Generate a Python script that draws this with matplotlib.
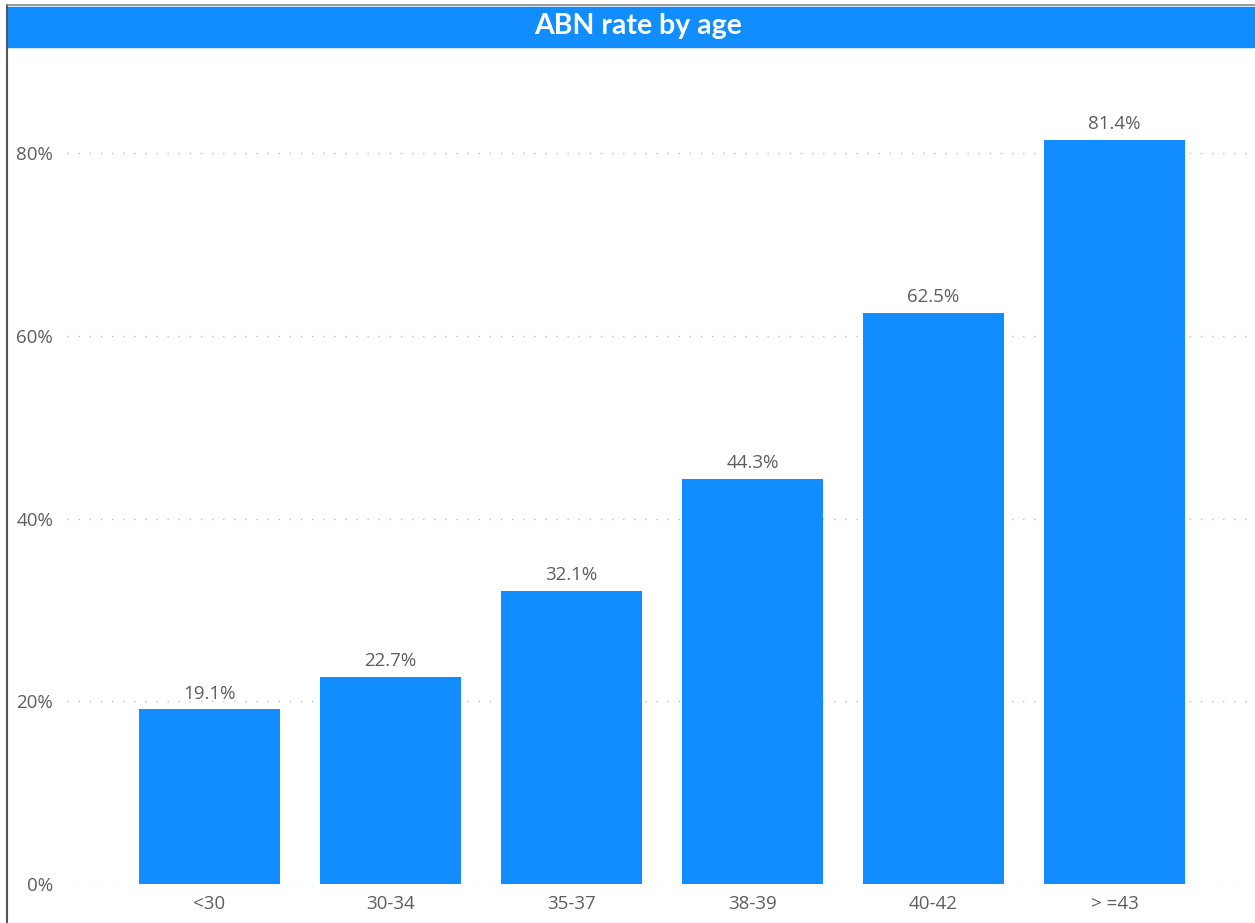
import matplotlib
matplotlib.use("Agg")
import matplotlib.pyplot as plt
from matplotlib.lines import Line2D
from matplotlib.patches import Rectangle

categories = ["<30", "30-34", "35-37", "38-39", "40-42", "> =43"]
values = [19.1, 22.7, 32.1, 44.3, 62.5, 81.4]
yticks = [0, 20, 40, 60, 80]
ytick_labels = ["0%", "20%", "40%", "60%", "80%"]
title = "ABN rate by age"

BLUE = "#118DFF"
GRAY = "#605E5C"
plt.rcParams['font.family'] = ['Open Sans', 'DejaVu Sans']

W, H = 1255, 923
fig = plt.figure(figsize=(W / 100, H / 100), dpi=100)

# title bar
fig.patches.append(Rectangle((7 / W, 1 - 47 / H), 1 - 7 / W, 40 / H,
                             transform=fig.transFigure, color=BLUE, zorder=1))
fig.text(638 / W, 1 - 26 / H, title, color="white", fontsize=20.5,
         fontweight="bold", ha="center", va="center", family=['Lato', 'DejaVu Sans'])
# frame lines
fig.lines.append(Line2D([7 / W, 7 / W], [0, 1 - 5 / H], transform=fig.transFigure,
                        color="#555555", lw=1.5))
fig.lines.append(Line2D([7 / W, 1], [1 - 5 / H, 1 - 5 / H], transform=fig.transFigure,
                        color="#888888", lw=1.2))

left, right = 67 / W, 1250 / W
bottom, top = (H - 884) / H, (H - 60) / H
ax = fig.add_axes([left, bottom, right - left, top - bottom])

x = list(range(len(categories)))
bars = ax.bar(x, values, width=0.78, color=BLUE, zorder=3)
for xi, v in zip(x, values):
    ax.annotate(f"{v:.1f}%", (xi, v), xytext=(0, 5), textcoords="offset points",
                ha="center", va="bottom", fontsize=13.5, color=GRAY)

# x limits based on pixel geometry: center0 at 209.5px, spacing 181px
ax.set_xlim((67 - 209.5) / 181, (1250 - 209.5) / 181)
ax.set_ylim(0, (884 - 60) / 9.1375)
ax.set_yticks(yticks)
ax.set_yticklabels(ytick_labels)
ax.set_xticks(x)
ax.set_xticklabels(categories)
ax.tick_params(axis="both", length=0, labelsize=13.5, labelcolor=GRAY)
ax.tick_params(axis="y", pad=10)
ax.tick_params(axis="x", pad=8)
for s in ax.spines.values():
    s.set_visible(False)
ax.yaxis.grid(True, color="#C0C0C0", linestyle=(0, (1, 7)), linewidth=1.0, zorder=0)
ax.set_axisbelow(True)

fig.savefig("out.png", dpi=100)
